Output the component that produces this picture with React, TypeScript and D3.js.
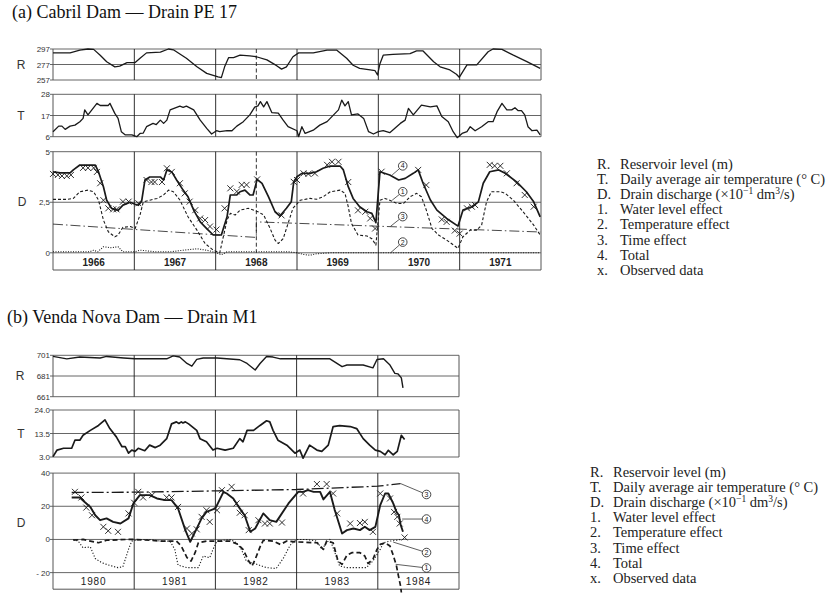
import React from 'react';
import * as d3 from 'd3';

type P = [number, number];

// ---------------- (a) Cabril Dam — Drain PE 17 ----------------
const yearsA = [1966, 1967, 1968, 1969, 1970, 1971];
const ticksRA = [257, 277, 297];
const ticksTA = [6, 17, 28];
const ticksDA = [0, 2.5, 5];
const tickLabelsDA = ['0', '2,5', '5'];

const reservoirA: P[] = [
  [1966.0, 292], [1966.21, 292], [1966.33, 295.5], [1966.43, 297], [1966.5, 296.5], [1966.58, 289],
  [1966.66, 280.5], [1966.76, 274], [1966.82, 275], [1966.91, 279.5], [1967.01, 279.5], [1967.07, 285],
  [1967.15, 292], [1967.32, 293], [1967.42, 297], [1967.48, 296], [1967.64, 285], [1967.77, 274],
  [1967.89, 265.5], [1968.03, 261], [1968.07, 260], [1968.11, 274], [1968.16, 286], [1968.22, 286],
  [1968.3, 289], [1968.42, 288], [1968.5, 287], [1968.63, 283], [1968.75, 275.5], [1968.81, 271],
  [1968.87, 274], [1968.95, 287], [1969.02, 292], [1969.2, 292], [1969.37, 295.5], [1969.49, 295.5],
  [1969.61, 285], [1969.69, 276], [1969.77, 272], [1969.9, 270], [1969.96, 269], [1969.99, 263.5],
  [1970.02, 278], [1970.06, 289], [1970.18, 290], [1970.39, 291], [1970.47, 294.5], [1970.55, 294.5],
  [1970.68, 280.5], [1970.76, 274], [1970.88, 270], [1970.96, 264.5], [1970.995, 260.5], [1971.09, 276.5],
  [1971.21, 276.5], [1971.35, 293.5], [1971.41, 297], [1971.52, 296.5], [1971.66, 289], [1971.82, 281],
  [1971.99, 272],
];

const temperatureA: P[] = [
  [1966.0, 8.6], [1966.07, 11.5], [1966.11, 11.5], [1966.15, 9.8], [1966.21, 11.5], [1966.27, 12],
  [1966.33, 13.8], [1966.37, 15.5], [1966.39, 19.9], [1966.43, 17.3], [1966.54, 23.3], [1966.58, 22.2],
  [1966.68, 22.2], [1966.7, 23.3], [1966.76, 18.1], [1966.8, 15.5], [1966.84, 8.6], [1966.89, 6.9],
  [1966.97, 6.9], [1967.03, 6], [1967.07, 7.7], [1967.11, 7.9], [1967.15, 11.2], [1967.23, 12.9],
  [1967.27, 12.3], [1967.32, 14.6], [1967.36, 12.9], [1967.4, 14.6], [1967.44, 19.9], [1967.56, 21.9],
  [1967.6, 21.2], [1967.64, 21.9], [1967.73, 19.9], [1967.81, 14.6], [1967.89, 10.3], [1967.95, 7.4],
  [1968.01, 9.1], [1968.05, 8.6], [1968.14, 9.1], [1968.2, 9.1], [1968.26, 11.5], [1968.34, 13.8],
  [1968.42, 17.3], [1968.48, 21.3], [1968.52, 22], [1968.55, 24.2], [1968.59, 21.5], [1968.63, 24.2],
  [1968.69, 18.5], [1968.77, 18.2], [1968.83, 14.6], [1968.89, 11.2], [1969.0, 9.1], [1969.02, 6],
  [1969.06, 11.2], [1969.1, 7.7], [1969.2, 9.4], [1969.28, 12], [1969.37, 13.8], [1969.45, 17.3],
  [1969.51, 19.9], [1969.55, 25], [1969.59, 22], [1969.63, 24.2], [1969.67, 17.3], [1969.75, 17.8],
  [1969.82, 15.5], [1969.88, 8.6], [1969.94, 7.4], [1970.0, 8.6], [1970.06, 9.1], [1970.14, 8.1],
  [1970.2, 10.3], [1970.27, 12.9], [1970.33, 14.6], [1970.37, 20.7], [1970.43, 17.3], [1970.53, 22.4],
  [1970.64, 21.5], [1970.72, 22], [1970.78, 16.5], [1970.86, 13.8], [1970.92, 8.6], [1970.97, 5.5],
  [1971.03, 7.7], [1971.09, 8.6], [1971.13, 11.2], [1971.19, 9.1], [1971.27, 11.2], [1971.35, 13.8],
  [1971.41, 13.8], [1971.46, 19], [1971.52, 23.3], [1971.58, 19.9], [1971.64, 19.9], [1971.68, 21],
  [1971.72, 19.5], [1971.76, 19.5], [1971.8, 17.3], [1971.84, 11.2], [1971.89, 9.1], [1971.95, 9.4],
  [1971.99, 6.9],
];

const totalA: P[] = [
  [1966.0, 4.0], [1966.09, 3.95], [1966.21, 3.95], [1966.25, 4.1], [1966.33, 4.34], [1966.52, 4.34],
  [1966.56, 4.0], [1966.62, 3.27], [1966.66, 2.6], [1966.72, 2.2], [1966.8, 2.1], [1966.86, 2.36],
  [1966.95, 2.5], [1967.01, 2.4], [1967.05, 2.35], [1967.09, 2.55], [1967.13, 3.6], [1967.19, 3.75],
  [1967.32, 3.75], [1967.36, 3.6], [1967.4, 4.1], [1967.46, 4.0], [1967.52, 3.6], [1967.6, 3.1],
  [1967.66, 2.77], [1967.73, 2.11], [1967.81, 1.53], [1967.89, 1.2], [1967.97, 0.88], [1968.07, 0.88],
  [1968.14, 1.78], [1968.18, 2.86], [1968.26, 2.86], [1968.3, 3.02], [1968.36, 3.1], [1968.42, 2.86],
  [1968.46, 2.86], [1968.51, 3.63], [1968.57, 3.43], [1968.65, 2.77], [1968.73, 2.03], [1968.79, 1.82],
  [1968.87, 2.2], [1968.93, 2.53], [1968.96, 3.51], [1969.0, 3.76], [1969.06, 3.93], [1969.16, 3.93],
  [1969.24, 4.01], [1969.32, 4.18], [1969.41, 4.29], [1969.53, 4.29], [1969.57, 4.1], [1969.63, 3.27],
  [1969.69, 2.69], [1969.77, 2.28], [1969.86, 2.03], [1969.92, 1.95], [1969.97, 1.49], [1970.02, 4.01],
  [1970.14, 3.85], [1970.25, 3.6], [1970.33, 3.68], [1970.43, 3.93], [1970.49, 4.1], [1970.55, 3.44],
  [1970.64, 2.61], [1970.72, 2.11], [1970.84, 1.7], [1970.98, 1.32], [1971.04, 2.11], [1971.15, 2.28],
  [1971.23, 2.52], [1971.29, 3.44], [1971.37, 4.01], [1971.48, 4.1], [1971.56, 3.93], [1971.7, 3.51],
  [1971.82, 3.02], [1971.91, 2.52], [1971.99, 1.78],
];

const observedA: P[] = [
  [1966.0, 3.9], [1966.06, 3.85], [1966.11, 3.8], [1966.17, 3.8], [1966.22, 3.85], [1966.37, 4.2],
  [1966.43, 4.2], [1966.5, 4.2], [1966.54, 4.0], [1966.58, 3.44], [1966.62, 2.6], [1966.68, 2.2],
  [1966.74, 2.15], [1966.78, 2.15], [1966.86, 2.53], [1966.93, 2.53], [1967.05, 2.45], [1967.15, 3.6],
  [1967.21, 3.5], [1967.25, 3.5], [1967.34, 3.5], [1967.4, 4.18], [1967.46, 4.0], [1967.56, 3.44],
  [1967.62, 2.94], [1967.68, 2.53], [1967.75, 2.11], [1967.81, 1.7], [1967.87, 1.62], [1967.93, 1.3],
  [1968.01, 1.15], [1968.11, 2.2], [1968.18, 3.19], [1968.26, 3.03], [1968.32, 3.36], [1968.38, 3.36],
  [1968.51, 3.63], [1968.81, 1.85], [1968.96, 3.51], [1969.0, 3.6], [1969.08, 3.93], [1969.14, 3.9],
  [1969.22, 3.93], [1969.37, 4.35], [1969.43, 4.5], [1969.51, 4.5], [1969.63, 3.5], [1969.75, 2.1],
  [1969.84, 2.03], [1969.9, 1.7], [1969.96, 1.2], [1970.04, 4.01], [1970.49, 4.1], [1970.59, 3.35],
  [1970.78, 1.65], [1970.84, 1.53], [1970.94, 1.1], [1971.0, 0.95], [1971.09, 2.2], [1971.15, 2.28],
  [1971.19, 2.36], [1971.37, 4.35], [1971.43, 4.3], [1971.5, 4.3], [1971.58, 3.93], [1971.7, 3.44],
  [1971.8, 2.86], [1971.91, 2.28],
];

const waterEffectA: P[] = [
  [1966.0, 2.64], [1966.17, 2.64], [1966.25, 2.69], [1966.33, 3.02], [1966.43, 3.1], [1966.5, 3.02],
  [1966.56, 2.6], [1966.62, 1.62], [1966.68, 1.04], [1966.76, 0.79], [1966.8, 0.88], [1966.86, 1.26],
  [1966.95, 1.3], [1967.01, 1.2], [1967.07, 1.87], [1967.11, 2.52], [1967.19, 2.6], [1967.28, 2.69],
  [1967.36, 2.86], [1967.42, 3.1], [1967.48, 3.02], [1967.56, 2.61], [1967.66, 1.78], [1967.77, 1.12],
  [1967.87, 0.46], [1967.97, 0.13], [1968.05, 0.0], [1968.14, 1.62], [1968.18, 1.95], [1968.24, 1.87],
  [1968.3, 2.11], [1968.4, 2.2], [1968.52, 2.03], [1968.59, 1.87], [1968.67, 1.2], [1968.73, 0.63],
  [1968.77, 0.46], [1968.83, 0.7], [1968.87, 1.2], [1968.95, 2.2], [1969.04, 2.6], [1969.16, 2.69],
  [1969.24, 2.65], [1969.32, 2.77], [1969.41, 3.02], [1969.53, 3.1], [1969.59, 2.94], [1969.63, 2.28],
  [1969.67, 1.45], [1969.75, 0.88], [1969.86, 0.83], [1969.92, 0.7], [1969.97, 0.38], [1970.02, 2.6],
  [1970.08, 2.69], [1970.14, 2.6], [1970.23, 2.44], [1970.31, 2.44], [1970.39, 2.77], [1970.47, 2.94],
  [1970.53, 2.77], [1970.59, 2.11], [1970.66, 1.2], [1970.74, 0.88], [1970.84, 0.63], [1970.98, 0.22],
  [1971.04, 0.79], [1971.13, 1.12], [1971.21, 1.12], [1971.27, 1.37], [1971.33, 2.52], [1971.39, 3.02],
  [1971.5, 3.02], [1971.56, 2.94], [1971.66, 2.6], [1971.78, 2.03], [1971.91, 1.37], [1971.99, 0.88],
];

const tempEffectA: P[] = [
  [1966.0, 0.05], [1966.3, 0.05], [1966.45, 0.05], [1966.5, 0.13], [1966.55, 0.05], [1966.62, 0.3],
  [1966.72, 0.25], [1966.8, 0.3], [1966.86, 0.05], [1967.0, 0.05], [1967.07, 0.13], [1967.15, 0.1],
  [1967.25, 0.05], [1967.45, 0.05], [1967.6, 0.13], [1967.77, 0.2], [1967.89, 0.13], [1968.01, 0.0],
  [1968.07, -0.1], [1968.14, 0.05], [1968.5, 0.05], [1968.7, 0.05], [1968.9, 0.05], [1969.0, 0.0],
  [1969.08, -0.08], [1969.16, -0.12], [1969.24, -0.05], [1969.4, 0.0], [1970.0, 0.0], [1971.0, 0.0],
  [1971.99, 0.0],
];

const timeEffectA: P[] = [
  [1966.0, 1.42], [1968.5, 0.76], [1968.5, 1.53], [1971.99, 1.03],
];

// ---------------- (b) Venda Nova Dam — Drain M1 ----------------
const yearsB = [1980, 1981, 1982, 1983, 1984];
const ticksRB = [661, 681, 701];
const ticksTB = [3, 13.5, 24];
const tickLabelsTB = ['3.0', '13.5', '24.0'];
const ticksDB = [-20, 0, 20, 40];
const tickLabelsDB = ['- 20', '0', '20', '40'];

const reservoirB: P[] = [
  [1980.0, 700], [1980.17, 697.6], [1980.33, 699.3], [1980.58, 698.4], [1980.66, 699.9], [1980.87, 698.4],
  [1981.01, 697.6], [1981.4, 697.6], [1981.48, 700.4], [1981.56, 699.3], [1981.65, 693.1], [1981.71, 690.5],
  [1981.77, 697], [1981.85, 698.4], [1982.02, 698.4], [1982.3, 696.7], [1982.39, 693.1], [1982.49, 686.8],
  [1982.55, 693.1], [1982.63, 699.9], [1982.71, 699.3], [1982.8, 697.6], [1983.04, 697.6], [1983.41, 697.6],
  [1983.56, 690], [1983.62, 691.6], [1983.82, 691.6], [1983.94, 688.9], [1983.99, 697], [1984.07, 697.6],
  [1984.15, 691.6], [1984.21, 683.5], [1984.25, 683], [1984.29, 679.2], [1984.31, 669.6],
];

const temperatureB: P[] = [
  [1980.0, 3.15], [1980.05, 6.1], [1980.13, 6.9], [1980.23, 6.9], [1980.27, 10.5], [1980.33, 10.5],
  [1980.37, 12.7], [1980.46, 14.9], [1980.56, 17.1], [1980.64, 19.6], [1980.7, 15.7], [1980.78, 12],
  [1980.85, 7.6], [1980.89, 7.6], [1980.93, 4.7], [1980.97, 6.1], [1981.01, 5.5], [1981.05, 6.9],
  [1981.13, 5.8], [1981.19, 8.3], [1981.26, 7.2], [1981.32, 8.3], [1981.4, 11.2], [1981.46, 17.8],
  [1981.52, 18.7], [1981.55, 18], [1981.58, 18.7], [1981.6, 18.2], [1981.63, 18.7], [1981.67, 17.8],
  [1981.77, 14.9], [1981.81, 11.2], [1981.89, 9.8], [1981.97, 6.1], [1982.02, 6.9], [1982.12, 6.1],
  [1982.22, 6.9], [1982.3, 11.2], [1982.34, 9.8], [1982.39, 14.9], [1982.47, 14.9], [1982.55, 17.1],
  [1982.63, 19.2], [1982.67, 18.7], [1982.71, 14.9], [1982.77, 10.5], [1982.88, 8.3], [1982.98, 4.7],
  [1983.04, 6.1], [1983.08, 2.5], [1983.16, 8.3], [1983.25, 6.1], [1983.31, 5.5], [1983.39, 8.3],
  [1983.45, 16.6], [1983.53, 17], [1983.66, 16.6], [1983.74, 15.7], [1983.82, 11.2], [1983.9, 8.3],
  [1983.97, 6.1], [1984.03, 5.5], [1984.09, 4], [1984.13, 6], [1984.19, 4], [1984.24, 5.5],
  [1984.29, 12.7], [1984.33, 10.8],
];

const totalB: P[] = [
  [1980.23, 25.3], [1980.33, 25.3], [1980.39, 22.6], [1980.46, 19.6], [1980.52, 14.6], [1980.58, 11.6],
  [1980.66, 12.7], [1980.74, 10.6], [1980.83, 9.6], [1980.93, 12.7], [1980.99, 21.7], [1981.07, 26.7],
  [1981.19, 26.7], [1981.28, 24.7], [1981.38, 23.7], [1981.46, 23.7], [1981.54, 18.7], [1981.63, 5.6],
  [1981.69, -1.4], [1981.75, 4.6], [1981.83, 12.7], [1981.89, 16.6], [1982.0, 18.7], [1982.1, 28.7],
  [1982.14, 27.7], [1982.22, 24.7], [1982.3, 18.7], [1982.36, 14.6], [1982.43, 4.6], [1982.49, 6.6],
  [1982.59, 15.7], [1982.67, 11.6], [1982.75, 10.6], [1982.9, 21.7], [1983.02, 28.7], [1983.08, 28.7],
  [1983.14, 29.7], [1983.21, 28.7], [1983.29, 28.7], [1983.33, 24.1], [1983.41, 28.7], [1983.47, 17.7],
  [1983.56, 3.6], [1983.62, 5.6], [1983.7, 6.6], [1983.78, 5.6], [1983.84, 7.6], [1983.9, 5.6],
  [1983.97, 7.6], [1984.03, 20.7], [1984.09, 27.7], [1984.13, 27.7], [1984.19, 21.7], [1984.23, 16.6],
  [1984.26, 14.6], [1984.28, 9], [1984.31, 4.6],
];

const observedB: P[] = [
  [1980.27, 28.7], [1980.35, 25.3], [1980.41, 19.2], [1980.48, 14.6], [1980.62, 7.6], [1980.68, 5.2],
  [1980.8, 4.6], [1980.93, 15.7], [1981.0, 22.1], [1981.05, 28.7], [1981.11, 25.3], [1981.22, 26.7],
  [1981.4, 25.3], [1981.46, 25.3], [1981.54, 19.6], [1981.65, 6.6], [1981.71, 3.6], [1981.77, 6.1],
  [1981.83, 13.6], [1981.89, 17.6], [1981.93, 10.6], [1982.02, 17.6], [1982.08, 29.7], [1982.2, 31.7],
  [1982.26, 21.7], [1982.3, 16.1], [1982.36, 14.6], [1982.41, 5.6], [1982.53, 11.6], [1982.61, 9.6],
  [1982.67, 9.6], [1982.82, 10.2], [1983.08, 27.7], [1983.25, 33.4], [1983.37, 33.4], [1983.45, 27.7],
  [1983.5, 15.7], [1983.66, 9.6], [1983.78, 9.9], [1983.84, 10.6], [1983.94, 4.6], [1984.03, 27.7],
  [1984.15, 24.7], [1984.2, 16.6], [1984.24, 13.6], [1984.27, 9.6], [1984.33, 1.2],
];

const waterEffectB: P[] = [
  [1980.25, -0.4], [1980.37, 0], [1980.46, -1], [1980.56, -2], [1980.66, -0.5], [1980.91, 0],
  [1980.99, 0], [1981.19, -0.5], [1981.32, -1], [1981.52, -1], [1981.58, -4], [1981.65, -11],
  [1981.7, -13], [1981.75, -8], [1981.79, -2], [1981.89, -1], [1982.06, -1], [1982.18, -1],
  [1982.28, -3], [1982.34, -6], [1982.41, -13], [1982.45, -16], [1982.49, -12], [1982.55, -4.5],
  [1982.59, -0.5], [1982.71, -1], [1982.8, -3], [1982.88, -1], [1983.0, -1.5], [1983.25, -2],
  [1983.33, -6], [1983.37, -1], [1983.45, -2], [1983.51, -13], [1983.56, -15], [1983.62, -9.5],
  [1983.68, -8], [1983.78, -8], [1983.84, -10], [1983.88, -14.5], [1983.94, -12], [1983.99, -6],
  [1984.03, -3], [1984.09, -2], [1984.15, -4], [1984.19, -9.5], [1984.23, -16], [1984.25, -21],
  [1984.28, -28], [1984.29, -32],
];

const tempEffectB: P[] = [
  [1980.25, 0], [1980.31, -1], [1980.37, -5], [1980.46, -4.5], [1980.52, -11.5], [1980.6, -14],
  [1980.7, -15.7], [1980.8, -17], [1980.86, -16.5], [1980.93, -6], [1980.97, -1], [1981.07, 0],
  [1981.19, 0], [1981.32, -1], [1981.44, -1], [1981.5, -6], [1981.54, -15.5], [1981.65, -17],
  [1981.79, -17], [1981.85, -10], [1981.93, -11], [1981.97, -6], [1982.02, -1], [1982.18, 0],
  [1982.26, -2], [1982.32, -6], [1982.38, -13], [1982.51, -15], [1982.63, -17], [1982.75, -17.5],
  [1982.84, -11], [1982.92, -3.5], [1983.0, 0], [1983.12, 0], [1983.25, -1], [1983.31, -6],
  [1983.37, -2], [1983.41, 0], [1983.45, -5], [1983.53, -16], [1983.62, -17], [1983.86, -17],
  [1983.94, -13], [1984.03, -6], [1984.07, -2], [1984.15, -1], [1984.23, -0.5], [1984.29, 0],
];

const timeEffectB: P[] = [
  [1980.23, 28.3], [1981.07, 28.5], [1982.02, 29.3], [1983.0, 30.1], [1984.0, 32.1], [1984.28, 33.7],
];

const legendKeys = ['R.', 'T.', 'D.', '1.', '2.', '3.', '4.', 'x.'];
const legendTexts = [
  'Reservoir level (m)',
  'Daily average air temperature (° C)',
  'DRAIN',
  'Water level effect',
  'Temperature effect',
  'Time effect',
  'Total',
  'Observed data',
];

// ---------------- drawing helpers ----------------
const INK = '#1a1a1a';
const GRID = '#555';
const SANS = 'Liberation Sans, Arial, sans-serif';
const SERIF = 'Liberation Serif, Times New Roman, serif';

type Scale = d3.ScaleLinear<number, number>;

function Curve({ data, x, y, width = 1.4, dash }: { data: P[]; x: Scale; y: Scale; width?: number; dash?: string }) {
  const gen = d3.line<P>().x((d) => x(d[0])).y((d) => y(d[1]));
  return <path d={gen(data) || ''} fill="none" stroke={INK} strokeWidth={width} strokeDasharray={dash} strokeLinejoin="round" />;
}

function Crosses({ data, x, y, s = 3 }: { data: P[]; x: Scale; y: Scale; s?: number }) {
  return (
    <g stroke={INK} strokeWidth={0.9}>
      {data.map((d, i) => {
        const cx = x(d[0]);
        const cy = y(d[1]);
        return (
          <g key={i}>
            <line x1={cx - s} y1={cy - s} x2={cx + s} y2={cy + s} />
            <line x1={cx - s} y1={cy + s} x2={cx + s} y2={cy - s} />
          </g>
        );
      })}
    </g>
  );
}

function Panel({ x, y, ticks, labels, bottom, years, letter, letterX, tickFont = 8 }: {
  x: Scale; y: Scale; ticks: number[]; labels: string[]; bottom?: number; years: number[]; letter: string; letterX: number; tickFont?: number;
}) {
  const [x0, x1] = x.range();
  const yTop = y(d3.max(ticks) as number);
  const yBot = y(bottom !== undefined ? bottom : (d3.min(ticks) as number));
  return (
    <g>
      {ticks.map((t, i) => (
        <g key={i}>
          <line x1={x0} x2={x1} y1={y(t)} y2={y(t)} stroke={GRID} strokeWidth={0.9} />
          <line x1={x0 - 3} x2={x0} y1={y(t)} y2={y(t)} stroke={GRID} strokeWidth={0.9} />
          <text x={x0 - 3} y={y(t) + 3} fontSize={tickFont} fontFamily={SANS} textAnchor="end" fill="#333">{labels[i]}</text>
        </g>
      ))}
      <line x1={x0} x2={x0} y1={yTop} y2={yBot} stroke={GRID} strokeWidth={1} />
      <line x1={x1} x2={x1} y1={yTop} y2={yBot} stroke={GRID} strokeWidth={1} />
      {bottom !== undefined && <line x1={x0} x2={x1} y1={yBot} y2={yBot} stroke={GRID} strokeWidth={1} />}
      {years.slice(1).map((yr) => (
        <line key={yr} x1={x(yr)} x2={x(yr)} y1={yTop} y2={yBot} stroke={INK} strokeWidth={0.9} />
      ))}
      <text x={letterX} y={(yTop + (bottom !== undefined ? y(d3.min(ticks) as number) : yBot)) / 2 + 4} fontSize={12} fontFamily={SANS} fill="#333" textAnchor="middle">{letter}</text>
    </g>
  );
}

function Circled({ cx, cy, n, fx, fy }: { cx: number; cy: number; n: string; fx: number; fy: number }) {
  const r = 4.3;
  const ang = Math.atan2(fy - cy, fx - cx);
  return (
    <g>
      <line x1={cx + r * Math.cos(ang)} y1={cy + r * Math.sin(ang)} x2={fx} y2={fy} stroke={INK} strokeWidth={0.7} />
      <circle cx={cx} cy={cy} r={r} fill="white" stroke={INK} strokeWidth={0.8} />
      <text x={cx} y={cy + 2.5} fontSize={7} fontFamily={SANS} textAnchor="middle" fill={INK}>{n}</text>
    </g>
  );
}

function Legend({ x, y }: { x: number; y: number }) {
  return (
    <g fontFamily={SERIF} fontSize={14.5} fill="#222">
      {legendKeys.map((k, i) => (
        <g key={k}>
          <text x={x} y={y + i * 15.1}>{k}</text>
          {legendTexts[i] === 'DRAIN' ? (
            <text x={x + 23} y={y + i * 15.1}>
              Drain discharge (×10
              <tspan dy={-5} fontSize={9.5}>−1</tspan>
              <tspan dy={5}> dm</tspan>
              <tspan dy={-5} fontSize={9.5}>3</tspan>
              <tspan dy={5}>/s)</tspan>
            </text>
          ) : (
            <text x={x + 23} y={y + i * 15.1}>{legendTexts[i]}</text>
          )}
        </g>
      ))}
    </g>
  );
}

export default function App() {
  // (a) scales
  const xA = d3.scaleLinear().domain([1966, 1972]).range([53, 541]);
  const rA = d3.scaleLinear().domain([257, 297]).range([80, 49]);
  const tA = d3.scaleLinear().domain([6, 28]).range([136.7, 94.3]);
  const dA = d3.scaleLinear().domain([-0.85, 5]).range([270, 151.7]);
  // (b) scales
  const xB = d3.scaleLinear().domain([1980, 1985]).range([53, 459]);
  const rB = d3.scaleLinear().domain([661, 701]).range([396.7, 355.3]);
  const tB = d3.scaleLinear().domain([3, 24]).range([457, 410]);
  const dB = d3.scaleLinear().domain([-30, 40]).range([589.2, 473.1]);

  const midA = 1968.5;

  return (
    <svg width={833} height={593} viewBox="0 0 833 593" style={{ display: 'block', position: 'absolute', left: 0, top: 0, background: 'white' }}>
      <rect x={0} y={0} width={833} height={593} fill="white" />
      {/* ===== (a) ===== */}
      <text x={12} y={18} fontFamily={SERIF} fontSize={18} fill="#111">(a) Cabril Dam — Drain PE 17</text>

      <Panel x={xA} y={rA} ticks={ticksRA} labels={ticksRA.map(String)} years={yearsA} letter="R" letterX={21} />
      <Panel x={xA} y={tA} ticks={ticksTA} labels={ticksTA.map(String)} years={yearsA} letter="T" letterX={21} />
      <Panel x={xA} y={dA} ticks={ticksDA} labels={tickLabelsDA} bottom={-0.85} years={yearsA} letter="D" letterX={22} />
      <line x1={xA(midA)} x2={xA(midA)} y1={rA(297)} y2={rA(257)} stroke={INK} strokeWidth={0.9} strokeDasharray="4,2.5" />
      <line x1={xA(midA)} x2={xA(midA)} y1={tA(28)} y2={tA(6)} stroke={INK} strokeWidth={0.9} strokeDasharray="4,2.5" />
      <line x1={xA(midA)} x2={xA(midA)} y1={dA(5)} y2={dA(0)} stroke={INK} strokeWidth={0.9} strokeDasharray="4,2.5" />
      {yearsA.map((yr) => (
        <text key={yr} x={xA(yr + 0.5)} y={266} fontSize={10} fontWeight="bold" fontFamily={SANS} textAnchor="middle" fill="#222">{yr}</text>
      ))}

      <Curve data={reservoirA} x={xA} y={rA} width={1.3} />
      <Curve data={temperatureA} x={xA} y={tA} width={1.3} />
      <Curve data={timeEffectA} x={xA} y={dA} width={0.8} dash="10,3,1.5,3" />
      <Curve data={tempEffectA} x={xA} y={dA} width={1.1} dash="1,1.5" />
      <Curve data={waterEffectA} x={xA} y={dA} width={1.1} dash="3,2" />
      <Curve data={totalA} x={xA} y={dA} width={1.7} />
      <Crosses data={observedA} x={xA} y={dA} />

      <Circled cx={xA(1970.3)} cy={dA(4.3)} n="4" fx={xA(1970.17)} fy={dA(3.85)} />
      <Circled cx={xA(1970.3)} cy={dA(3.02)} n="1" fx={xA(1970.17)} fy={dA(2.6)} />
      <Circled cx={xA(1970.3)} cy={dA(1.79)} n="3" fx={xA(1970.15)} fy={dA(1.31)} />
      <Circled cx={xA(1970.3)} cy={dA(0.53)} n="2" fx={xA(1970.15)} fy={dA(0.0)} />

      <Legend x={597} y={169} />

      {/* ===== (b) ===== */}
      <text x={7} y={323} fontFamily={SERIF} fontSize={18} fill="#111">(b) Venda Nova Dam — Drain M1</text>

      <Panel x={xB} y={rB} ticks={ticksRB} labels={ticksRB.map(String)} years={yearsB} letter="R" letterX={20} />
      <Panel x={xB} y={tB} ticks={ticksTB} labels={tickLabelsTB} years={yearsB} letter="T" letterX={21} />
      <Panel x={xB} y={dB} ticks={ticksDB} labels={tickLabelsDB} bottom={-30} years={yearsB} letter="D" letterX={21} />
      {yearsB.map((yr) => (
        <text key={yr} x={xB(yr + 0.5)} y={585} fontSize={10} fontFamily={SANS} textAnchor="middle" fill="#222" letterSpacing={0.8}>{yr}</text>
      ))}

      <Curve data={reservoirB} x={xB} y={rB} width={1.4} />
      <Curve data={temperatureB} x={xB} y={tB} width={1.7} />
      <Curve data={timeEffectB} x={xB} y={dB} width={1.3} dash="12,3,2,3" />
      <Curve data={tempEffectB} x={xB} y={dB} width={1.1} dash="1.2,1.8" />
      <Curve data={waterEffectB} x={xB} y={dB} width={1.7} dash="5,3" />
      <Curve data={totalB} x={xB} y={dB} width={1.9} />
      <Crosses data={observedB} x={xB} y={dB} />

      <Circled cx={xB(1984.6)} cy={dB(27.1)} n="3" fx={xB(1984.28)} fy={dB(33.7)} />
      <Circled cx={xB(1984.6)} cy={dB(12.3)} n="4" fx={xB(1984.3)} fy={dB(12.3)} />
      <Circled cx={xB(1984.6)} cy={dB(-7.9)} n="2" fx={xB(1984.19)} fy={dB(-1.6)} />
      <Circled cx={xB(1984.6)} cy={dB(-17.2)} n="1" fx={xB(1984.22)} fy={dB(-15)} />

      <Legend x={590} y={477} />
    </svg>
  );
}
